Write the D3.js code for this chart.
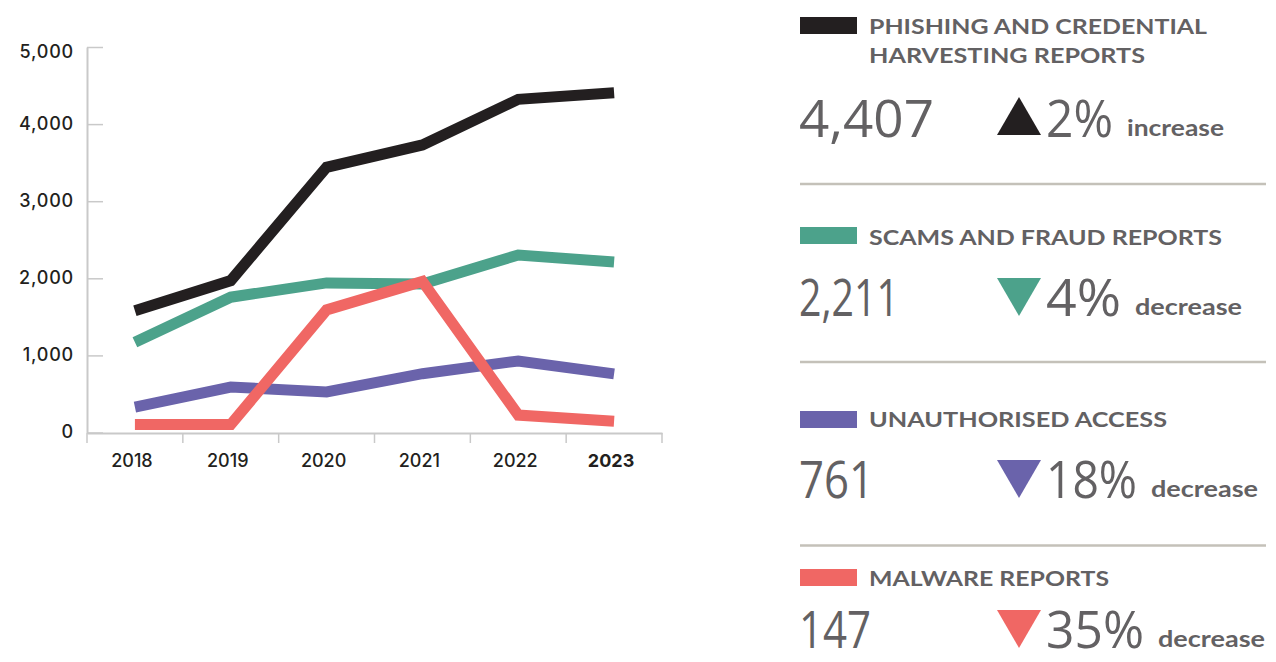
<!DOCTYPE html>
<html>
<head>
<meta charset="utf-8">
<script src="https://cdn.jsdelivr.net/npm/d3@7"></script>
<style>
  body { margin: 0; background: #fff; }
  svg { display: block; }
  .axis text { font-family: Inter, sans-serif; font-size: 18px; font-weight: 500; fill: #231f20; }
</style>
</head>
<body>
<div id="chart"></div>
<script>
(function() {
  // data
  var years = ['2018', '2019', '2020', '2021', '2022', '2023'];
  var phishing = [1580, 1970, 3440, 3730, 4321, 4407];
  var scams = [1170, 1755, 1940, 1925, 2303, 2211];
  var unauthorised = [330, 590, 525, 763, 928, 761];
  var malware = [103, 103, 1590, 1960, 226, 147];
  var yTicks = [0, 1000, 2000, 3000, 4000, 5000];

  var titles = [
    ['PHISHING AND CREDENTIAL', 'HARVESTING REPORTS'],
    ['SCAMS AND FRAUD REPORTS'],
    ['UNAUTHORISED ACCESS'],
    ['MALWARE REPORTS']
  ];
  var latest = [4407, 2211, 761, 147];
  var change = [2, -4, -18, -35];
  var colors = ['#231f20', '#4ca28b', '#6a63ab', '#f06764'];
  var seriesList = [phishing, scams, unauthorised, malware];

  var width = 1276, height = 662;
  var svg = d3.select('#chart').append('svg')
    .attr('width', width)
    .attr('height', height);

  // scales
  var x = d3.scaleBand().domain(years).range([87, 662]).padding(0);
  var y = d3.scaleLinear().domain([0, 5000]).range([432.5, 47]);
  var cx = function(d) { return x(d) + x.bandwidth() / 2; };

  // y axis
  var yAxis = svg.append('g')
    .attr('class', 'axis')
    .attr('transform', 'translate(87,0)')
    .call(d3.axisLeft(y).tickValues(yTicks).tickSizeInner(-16).tickSizeOuter(0)
      .tickPadding(13).tickFormat(d3.format(',')));
  yAxis.select('.domain').attr('stroke', '#c9c9c9').attr('stroke-width', 2);
  yAxis.selectAll('.tick line').attr('stroke', '#c9c9c9').attr('stroke-width', 1.5);
  yAxis.selectAll('.tick text').attr('letter-spacing', '0.8px')
    .attr('dy', function(d) { return d === 5000 ? '0.6em' : '0.3em'; });

  // x axis (labels at band centres, ticks at band edges)
  var xAxis = svg.append('g')
    .attr('class', 'axis')
    .attr('transform', 'translate(0,433)')
    .call(d3.axisBottom(x).tickSize(0).tickPadding(21));
  xAxis.select('.domain').attr('stroke', '#c9c9c9').attr('stroke-width', 2);
  xAxis.selectAll('.tick text')
    .attr('dx', -3)
    .style('font-weight', function(d) { return d === '2023' ? 700 : 500; });
  var edges = years.map(function(d) { return x(d); }).concat([x.range()[1]]);
  xAxis.selectAll('.edge').data(edges).enter().append('line')
    .attr('class', 'edge')
    .attr('x1', function(d) { return d; })
    .attr('x2', function(d) { return d; })
    .attr('y1', 0).attr('y2', 10)
    .attr('stroke', '#c9c9c9').attr('stroke-width', 1.5);

  // lines
  var line = d3.line()
    .x(function(d, i) { return cx(years[i]); })
    .y(function(d) { return y(d); });

  svg.selectAll('.series').data(seriesList).enter().append('path')
    .attr('class', 'series')
    .attr('d', line)
    .attr('fill', 'none')
    .attr('stroke', function(d, i) { return colors[i]; })
    .attr('stroke-width', 11)
    .attr('stroke-linejoin', 'miter')
    .attr('stroke-linecap', 'butt');

  // legend panels
  var gray = '#636163';
  var swatchTop = [17, 227, 411, 569];
  var titleBase = [34, 245, 427, 586];
  var numberBase = [137, 316, 498, 648];
  var separators = [184, 362, 545.5];
  var titleWidths = [[338, 276], [353], [298], [240]];
  var numberWidths = [135, 100, 75, 72];
  var pctWidths = [67, 75, 91, 98];

  svg.selectAll('.sep').data(separators).enter().append('line')
    .attr('class', 'sep')
    .attr('x1', 800).attr('x2', 1266)
    .attr('y1', function(d) { return d; })
    .attr('y2', function(d) { return d; })
    .attr('stroke', '#c4c1b9')
    .attr('stroke-width', 2.5);

  var fmt = d3.format(',');
  titles.forEach(function(t, i) {
    var g = svg.append('g');
    g.append('rect')
      .attr('x', 800).attr('y', swatchTop[i])
      .attr('width', 57).attr('height', 17)
      .attr('fill', colors[i]);

    t.forEach(function(txt, j) {
      g.append('text')
        .attr('x', 869).attr('y', titleBase[i] + j * 28.5)
        .attr('textLength', titleWidths[i][j])
        .attr('lengthAdjust', 'spacingAndGlyphs')
        .style('font-family', 'Lato, sans-serif')
        .style('font-weight', 'bold')
        .style('font-size', '21px')
        .style('fill', gray)
        .text(txt);
    });

    g.append('text')
      .attr('x', 799).attr('y', numberBase[i])
      .attr('textLength', numberWidths[i])
      .attr('lengthAdjust', 'spacingAndGlyphs')
      .style('font-family', '"Open Sans", sans-serif')
      .style('font-size', '52px')
      .style('fill', gray)
      .text(fmt(latest[i]));

    // triangle marker
    var base = numberBase[i], tx = 997, tw = 44, th = 38;
    var pts = change[i] > 0
      ? [[tx, base - 2], [tx + tw, base - 2], [tx + tw / 2, base - 2 - th]]
      : [[tx, base - th], [tx + tw, base - th], [tx + tw / 2, base]];
    g.append('path')
      .attr('d', d3.line()(pts) + 'Z')
      .attr('fill', colors[i]);

    g.append('text')
      .attr('x', 1046).attr('y', base)
      .attr('textLength', pctWidths[i])
      .attr('lengthAdjust', 'spacingAndGlyphs')
      .style('font-family', '"Open Sans", sans-serif')
      .style('font-size', '52px')
      .style('fill', gray)
      .text(Math.abs(change[i]) + '%');

    g.append('text')
      .attr('x', 1046 + pctWidths[i] + 14).attr('y', base - 1)
      .attr('textLength', change[i] > 0 ? 97 : 107)
      .attr('lengthAdjust', 'spacingAndGlyphs')
      .style('font-family', 'Lato, sans-serif')
      .style('font-weight', 'bold')
      .style('font-size', '23px')
      .style('fill', gray)
      .text(change[i] > 0 ? 'increase' : 'decrease');
  });
}).call(this);
</script>
</body>
</html>
